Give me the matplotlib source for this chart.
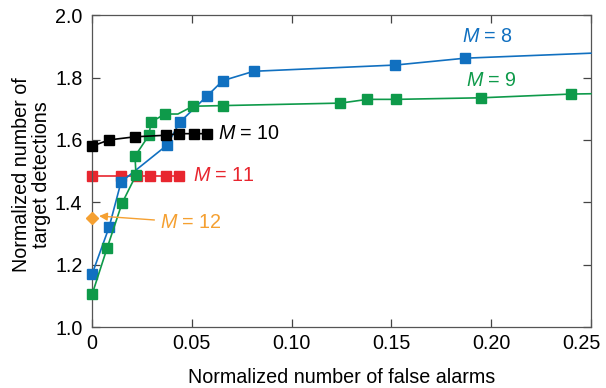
import numpy as np
import matplotlib
matplotlib.use("Agg")
import matplotlib.pyplot as plt
import matplotlib.transforms as mtransforms

plt.rcParams['font.family'] = ['Liberation Sans', 'DejaVu Sans']
plt.rcParams['mathtext.fontset'] = 'custom'
plt.rcParams['mathtext.it'] = 'Liberation Sans:italic'
plt.rcParams['mathtext.rm'] = 'Liberation Sans'

# M = 8 (last point only continues the line to the edge)
x_m8 = [0.0, 0.0085, 0.0145, 0.0375, 0.044, 0.0575, 0.0655, 0.081, 0.152, 0.187, 0.25]
y_m8 = [1.17, 1.32, 1.465, 1.583, 1.657, 1.74, 1.79, 1.82, 1.84, 1.862, 1.878]

# M = 9
x_m9 = [0.0, 0.0075, 0.015, 0.022, 0.0215, 0.0285, 0.0295, 0.0365, 0.043, 0.0505,
        0.0655, 0.1245, 0.138, 0.1525, 0.195, 0.24, 0.25]
y_m9 = [1.105, 1.253, 1.397, 1.487, 1.548, 1.615, 1.657, 1.683, 1.683, 1.708,
        1.71, 1.718, 1.73, 1.73, 1.735, 1.747, 1.748]

# M = 10
x_m10 = [0.0, 0.0085, 0.0215, 0.037, 0.0435, 0.051, 0.0575]
y_m10 = [1.58, 1.60, 1.61, 1.615, 1.62, 1.62, 1.62]

# M = 11
x_m11 = [0.0, 0.0145, 0.0225, 0.029, 0.037, 0.0435]
y_m11 = [1.485, 1.485, 1.485, 1.485, 1.485, 1.485]

# M = 12
x_m12 = [0.0]
y_m12 = [1.35]

blue = '#1170c0'
green = '#0e9a4a'
red = '#e8262f'
orange = '#f5a031'

fig = plt.figure(figsize=(6.06, 3.88), dpi=100)
ax = fig.add_axes([0.152, 0.157, 0.823, 0.804])

ms = 6.5
lw = 1.2
ax.plot(x_m8, y_m8, '-s', color=blue, lw=lw, ms=ms, markevery=list(range(len(x_m8) - 1)),
        clip_on=False, zorder=3)
mk9 = [i for i in range(len(x_m9)) if i not in (8, len(x_m9) - 1)]
ax.plot(x_m9, y_m9, '-s', color=green, lw=lw, ms=ms, markevery=mk9, clip_on=False, zorder=3)
ax.plot(x_m10, y_m10, '-s', color='black', lw=lw, ms=ms, clip_on=False, zorder=4)
ax.plot(x_m11, y_m11, '-s', color=red, lw=lw, ms=ms, clip_on=False, zorder=2)
ax.plot(x_m12, y_m12, 'D', color=orange, ms=6.5, clip_on=False, zorder=5)

fs = 14.2
ax.text(0.1855, 1.93, '$M$ = 8', color=blue, fontsize=fs, va='center')
ax.text(0.1875, 1.79, '$M$ = 9', color=green, fontsize=fs, va='center')
ax.text(0.063, 1.62, '$M$ = 10', color='black', fontsize=fs, va='center')
ax.text(0.0505, 1.485, '$M$ = 11', color=red, fontsize=fs, va='center')
ax.annotate('$M$ = 12', xy=(0.0035, 1.356), xytext=(0.034, 1.335), color=orange,
            fontsize=fs, va='center',
            arrowprops=dict(arrowstyle='-|>', color=orange, lw=1.0, shrinkA=2, shrinkB=0,
                            mutation_scale=12))

ax.set_xlim(0, 0.25)
ax.set_ylim(1.0, 2.0)
ax.set_xticks([0, 0.05, 0.10, 0.15, 0.20, 0.25])
ax.set_xticklabels(['0', '0.05', '0.10', '0.15', '0.20', '0.25'])
ax.set_yticks([1.0, 1.2, 1.4, 1.6, 1.8, 2.0])
ax.set_yticklabels(['1.0', '1.2', '1.4', '1.6', '1.8', '2.0'])
ax.tick_params(direction='in', length=6, width=0.9, top=True, right=True,
               labelsize=fs, color='#444444')
ax.tick_params(axis='x', pad=5)
ax.tick_params(axis='y', pad=7)
for s in ax.spines.values():
    s.set_color('#555555')
    s.set_linewidth(0.9)

# nudge the last x tick label left so it stays inside the figure
last = ax.get_xticklabels()[-1]
last.set_transform(last.get_transform() +
                   mtransforms.ScaledTranslation(-9 / 100, 0, fig.dpi_scale_trans))

ax.set_xlabel('Normalized number of false alarms', fontsize=fs, labelpad=11)
ax.set_ylabel('Normalized number of\ntarget detections', fontsize=fs,
              linespacing=1.05)
ax.yaxis.set_label_coords(-0.082, 0.49)

fig.savefig('out.png', dpi=100)
